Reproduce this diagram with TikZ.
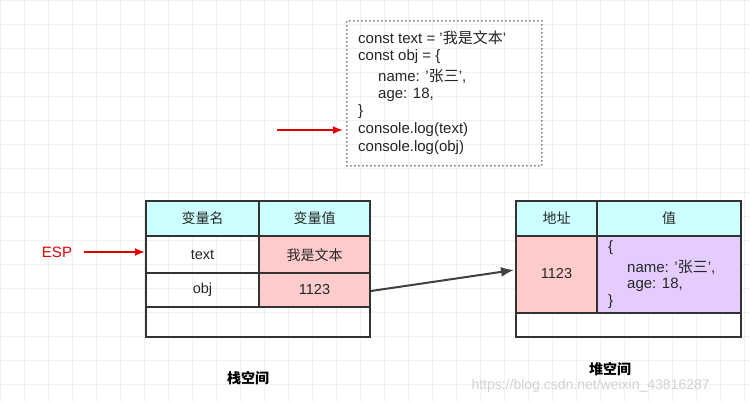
\documentclass[tikz,border=0pt]{standalone}
\usepackage{fontspec}
\setmainfont{Liberation Sans}
\newfontfamily\cj{Noto Sans CJK SC}
\tikzset{
 cell/.style={draw=black!80,line width=1.6pt},
 lbl/.style={font=\fontsize{14.5}{17}\selectfont,text=black!85},
 cjl/.style={font=\cj\fontsize{14}{17}\selectfont,text=black!85},
 codel/.style={font=\fontsize{15}{17}\selectfont,anchor=west,text=black!85,inner sep=0},
 redarr/.style={draw=red!90!black,line width=1.8pt,-{Latex[length=10pt,width=8pt]}},
}
\usetikzlibrary{arrows.meta}
\definecolor{hd}{HTML}{CCFFFF}
\definecolor{pk}{HTML}{FFCCCC}
\definecolor{pu}{HTML}{E5CCFF}
\begin{document}
\begin{tikzpicture}[x=1pt,y=-1pt]
\useasboundingbox (0,0) rectangle (750,402);
\fill[white] (0,0) rectangle (750,402);
\foreach \i in {0,24,...,750} \draw[black!6] (\i,0) -- (\i,402);
\foreach \i in {0,24,...,402} \draw[black!6] (0,\i) -- (750,\i);
% code box
\node[draw=black!65,line width=1.8pt,line cap=round,dash pattern=on 0pt off 4pt,minimum width=195pt,minimum height=145pt,anchor=north west] (code) at (346,20) {};
\node[codel] (c1) at (358,38) {const text = '{\cj 我是文本}'};
\node[codel] (c2) at (358,57) {const obj = \{};
\node[codel] (c3) at (378,76) {name: '{\cj 张三}',};
\node[codel] (c4) at (378,95) {age: 18,};
\node[codel] (c5) at (358,112) {\}};
\node[codel] (c6) at (358,130) {console.log(text)};
\node[codel] (c7) at (358,148) {console.log(obj)};
\coordinate (ra) at (277,130);
\draw[redarr] (ra) -- (343,130);
% stack
\fill[hd] (146,201) rectangle (370,236);
\fill[pk] (259,236) rectangle (370,307);
\draw[cell] (146,201) rectangle (370,337);
\draw[cell] (146,236) -- (370,236) (146,273) -- (370,273) (146,307) -- (370,307) (259,201) -- (259,307);
\node[cjl] (h1) at (202.5,218.5) {变量名};
\node[cjl] (h2) at (314.5,218.5) {变量值};
\node[lbl] (t1) at (202.5,255) {text};
\node[cjl] (t2) at (314.5,255) {我是文本};
\node[lbl] (o1) at (202.5,290) {obj};
\node[lbl] (o2) at (314.5,290) {1123};
\node[font=\fontsize{15}{17}\selectfont,text=red!90!black] (esp) at (57,252) {ESP};
\draw[redarr] (esp.east)++(8,0) -- (145,252);
% heap
\fill[hd] (516,201) rectangle (741,236);
\fill[pk] (516,236) rectangle (597,313);
\fill[pu] (597,236) rectangle (741,313);
\draw[cell] (516,201) rectangle (741,337);
\draw[cell] (516,236) -- (741,236) (516,313) -- (741,313) (597,201) -- (597,313);
\node[cjl] (k1) at (556.5,218.5) {地址};
\node[cjl] (k2) at (669,218.5) {值};
\node[lbl] (addr) at (556.5,274) {1123};
\node[codel] (v1) at (608,248) {\{};
\node[codel] (v2) at (627,267) {name: '{\cj 张三}',};
\node[codel] (v3) at (627,285) {age: 18,};
\node[codel] (v4) at (608,302) {\}};
\coordinate (ps) at (371,291);
\draw[black!75,line width=2pt,-{Latex[length=13pt,width=10pt]}] (ps) -- (514,270);
\node[font=\cj\bfseries\fontsize{14}{17}\selectfont] (s1) at (248,378) {栈空间};
\node[font=\cj\bfseries\fontsize{14}{17}\selectfont] (s2) at (610,369) {堆空间};
\node[font=\fontsize{14}{17}\selectfont,text=black!18,anchor=west] (wm) at (468,386) {https://blog.csdn.net/weixin\_43816287};
\end{tikzpicture}
\end{document}
